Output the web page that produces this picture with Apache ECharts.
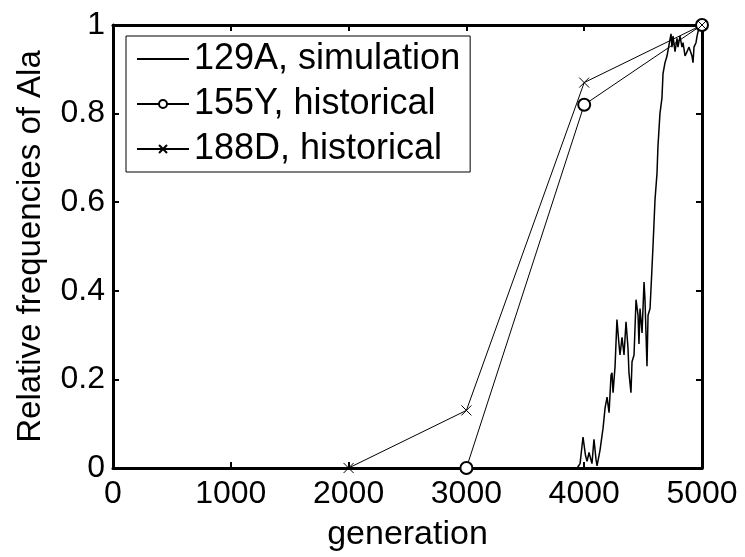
<!DOCTYPE html>
<html>
<head>
<meta charset="utf-8">
<script src="https://cdn.jsdelivr.net/npm/echarts@6/dist/echarts.min.js"></script>
<style>
  html, body { margin: 0; padding: 0; background: #fff; }
  #chart { width: 745px; height: 557px; }
</style>
</head>
<body>
<div id="chart"></div>
<script>
// data
const simGen = [0, 3940, 3965, 3990, 4010, 4024, 4041, 4066, 4083, 4100, 4109, 4134, 4160, 4177, 4194, 4211, 4228, 4236, 4245, 4262,
  4278, 4295, 4304, 4321, 4338, 4355, 4372, 4380, 4397, 4406, 4423, 4440, 4457, 4465, 4474, 4491, 4508, 4516, 4533, 4542,
  4559, 4576, 4584, 4601, 4618, 4626, 4643, 4660, 4669, 4686, 4703, 4720, 4737, 4745, 4754, 4771, 4788, 4796, 4813, 4830,
  4839, 4856, 4873, 4890, 4915, 4924, 4932, 4949, 4958, 4975, 5000];
const simVal = [0, 0, 0.01, 0.07, 0.03, 0.015, 0.035, 0.01, 0.065, 0.02, 0.005, 0.04, 0.09, 0.135, 0.16, 0.125, 0.21, 0.215, 0.17, 0.23,
  0.335, 0.28, 0.255, 0.295, 0.255, 0.33, 0.27, 0.215, 0.17, 0.24, 0.255, 0.38, 0.345, 0.28, 0.36, 0.305, 0.42, 0.38, 0.23, 0.345,
  0.36, 0.455, 0.5, 0.605, 0.665, 0.725, 0.8, 0.835, 0.89, 0.915, 0.93, 0.955, 0.98, 0.95, 0.975, 0.94, 0.97, 0.95, 0.975, 0.95,
  0.96, 0.93, 0.94, 0.95, 0.93, 0.915, 0.95, 0.96, 0.975, 0.995, 1];

const histGen155 = [3000, 4000, 5000];
const histVal155 = [0, 0.82, 1];
const histGen188 = [2000, 3000, 4000, 5000];
const histVal188 = [0, 0.13, 0.87, 1];

const xTicks = [0, 1000, 2000, 3000, 4000, 5000];
const yTicks = [0, 0.2, 0.4, 0.6, 0.8, 1];

const font = "'Liberation Sans', Arial, sans-serif";
const zip = (a, b) => a.map((v, i) => [v, b[i]]);

const chart = echarts.init(document.getElementById("chart"));

const axisCommon = {
  type: "value",
  axisLine: { show: true, onZero: false, lineStyle: { color: "#000", width: 3 } },
  axisTick: { show: true, inside: true, length: 6, lineStyle: { color: "#000", width: 2 } },
  splitLine: { show: false },
};

chart.setOption({
  animation: false,
  backgroundColor: "#fff",
  grid: { left: 113, right: 43, top: 25, bottom: 83 },
  legend: {
    orient: "vertical",
    left: 126,
    top: 36,
    padding: [5, 10, 5, 10],
    itemWidth: 52,
    itemHeight: 10,
    itemGap: 9,
    borderColor: "#000",
    borderWidth: 1,
    backgroundColor: "#fff",
    textStyle: { fontFamily: font, fontSize: 36, color: "#000", lineHeight: 34 },
    data: [
      { name: "129A, simulation", itemStyle: { opacity: 0 } },
      "155Y, historical",
      "188D, historical",
    ],
  },
  xAxis: [
    Object.assign({}, axisCommon, {
      min: xTicks[0], max: xTicks[xTicks.length - 1], interval: 1000,
      position: "bottom",
      name: "generation",
      nameLocation: "middle",
      nameGap: 50,
      nameTextStyle: { fontFamily: font, fontSize: 34, color: "#000" },
      axisLabel: { fontFamily: font, fontSize: 32, color: "#000", margin: 10, formatter: (v) => String(v) },
    }),
    Object.assign({}, axisCommon, {
      min: xTicks[0], max: xTicks[xTicks.length - 1], interval: 1000,
      position: "top",
      axisLabel: { show: false },
    }),
  ],
  yAxis: [
    Object.assign({}, axisCommon, {
      min: yTicks[0], max: yTicks[yTicks.length - 1], interval: 0.2,
      position: "left",
      name: "Relative frequencies of Ala",
      nameLocation: "middle",
      nameGap: 66,
      nameTextStyle: { fontFamily: font, fontSize: 33, color: "#000" },
      axisLabel: { fontFamily: font, fontSize: 32, color: "#000", margin: 8, formatter: (v) => String(+v.toFixed(1)) },
    }),
    Object.assign({}, axisCommon, {
      min: yTicks[0], max: yTicks[yTicks.length - 1], interval: 0.2,
      position: "right",
      axisLabel: { show: false },
    }),
  ],
  series: [
    {
      name: "129A, simulation",
      type: "line",
      data: zip(simGen, simVal),
      symbol: "none",
      lineStyle: { color: "#000", width: 1.5 },
      itemStyle: { color: "#000" },
    },
    {
      name: "155Y, historical",
      type: "line",
      data: zip(histGen155, histVal155),
      symbol: "emptyCircle",
      symbolSize: 12,
      clip: false,
      lineStyle: { color: "#000", width: 1 },
      itemStyle: { color: "#000", borderColor: "#000", borderWidth: 1 },
      z: 3,
    },
    {
      name: "188D, historical",
      type: "line",
      data: zip(histGen188, histVal188),
      symbol: "path://M0,0L10,10M0,10L10,0",
      symbolSize: 10,
      clip: false,
      lineStyle: { color: "#000", width: 1 },
      itemStyle: { color: "#000", borderColor: "#000", borderWidth: 1 },
      z: 3,
    },
  ],
});
</script>
</body>
</html>
